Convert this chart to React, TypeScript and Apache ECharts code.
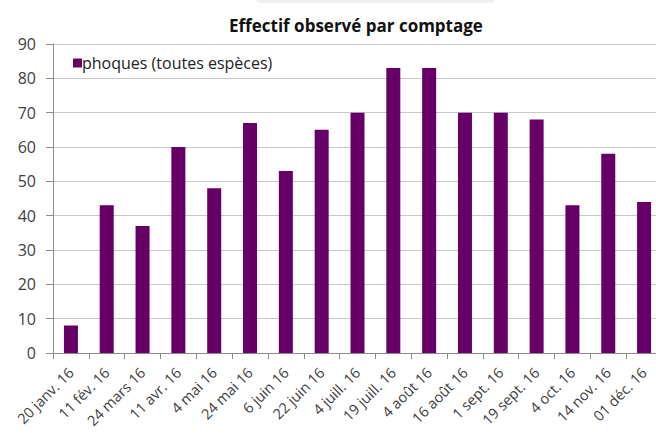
import React, { useEffect, useRef } from "react";
import * as echarts from "echarts";

const categories = [
  "20 janv. 16", "11 fév. 16", "24 mars 16", "11 avr. 16", "4 mai 16", "24 mai 16",
  "6 juin 16", "22 juin 16", "4 juill. 16", "19 juill. 16", "4 août 16", "16 août 16",
  "1 sept. 16", "19 sept. 16", "4 oct. 16", "14 nov. 16", "01 déc. 16",
];
const seriesName = "phoques (toutes espèces)";
const values = [8, 43, 37, 60, 48, 67, 53, 65, 70, 83, 83, 70, 70, 68, 43, 58, 44];
const titleText = "Effectif observé par comptage";

export default function App() {
  const ref = useRef<HTMLDivElement>(null);
  useEffect(() => {
    if (!ref.current) return;
    const chart = echarts.init(ref.current, null, { renderer: "svg" });
    const font = "'Open Sans', sans-serif";
    chart.setOption({
      animation: false,
      backgroundColor: "#ffffff",
      graphic: [
        {
          type: "rect",
          shape: { x: 255, y: -10, width: 241, height: 13, r: 6 },
          style: { fill: "#f3eef3" },
          silent: true,
        },
      ],
      title: {
        text: titleText,
        left: 351,
        textAlign: "center",
        top: 12,
        textStyle: { fontFamily: font, fontSize: 17, fontWeight: "bold", color: "#111" },
      },
      legend: {
        left: 68,
        top: 50,
        itemWidth: 9,
        itemHeight: 9,
        icon: "rect",
        textStyle: { fontFamily: font, fontSize: 16, color: "#222", padding: [0, 0, 0, -5] },
        data: [seriesName],
      },
      grid: { left: 53, right: 0, top: 44, bottom: 80, containLabel: false, outerBoundsMode: "none" },
      xAxis: {
        type: "category",
        data: categories,
        axisLine: { lineStyle: { color: "#8c8c8c" } },
        axisTick: { show: true, length: 6, lineStyle: { color: "#8c8c8c" } },
        axisLabel: { rotate: 45, interval: 0, fontFamily: font, fontSize: 14.5, color: "#404040", margin: 17 },
      },
      yAxis: {
        type: "value",
        min: 0,
        max: 90,
        interval: 10,
        axisLine: { show: true, lineStyle: { color: "#8c8c8c" } },
        axisTick: { show: true, length: 7, lineStyle: { color: "#8c8c8c" } },
        axisLabel: { fontFamily: font, fontSize: 16, color: "#404040", margin: 17 },
        splitLine: { lineStyle: { color: "#c8c8c8" } },
      },
      series: [
        {
          name: seriesName,
          type: "bar",
          data: values,
          barWidth: 14,
          itemStyle: { color: "#660066" },
        },
      ],
    });
    return () => chart.dispose();
  }, []);
  return (
    <div style={{ position: "fixed", left: 0, top: 0, width: 656, height: 433, overflow: "hidden" }}>
      <div ref={ref} style={{ width: 662, height: 433 }} />
    </div>
  );
}
